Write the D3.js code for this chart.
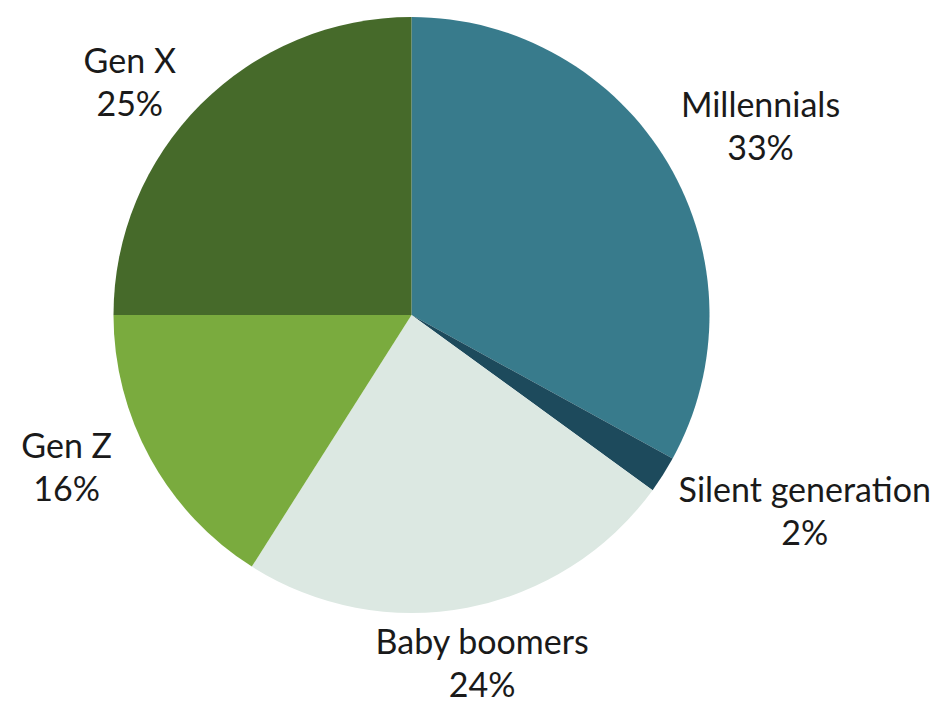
<!DOCTYPE html>
<html>
<head>
<meta charset="utf-8">
<script src="https://cdn.jsdelivr.net/npm/d3@7"></script>
<style>
  body { margin: 0; background: #fff; }
  svg text { font-family: Lato, "Open Sans", sans-serif; fill: #1a1a1a; }
</style>
</head>
<body>
<svg id="chart" width="945" height="706"></svg>
<script>
const categories = ["Millennials", "Silent generation", "Baby boomers", "Gen Z", "Gen X"];
const shares = [33, 2, 24, 16, 25];
const sliceColors = ["#387b8c", "#1d4a5c", "#dce8e2", "#7aab3e", "#466a2a"];

// label anchor: distance from centre and angle tweak (deg) per slice
const labelRadius = [391, 445, 367, 382, 358];
const labelAngleShift = [3.8, -4.5, -0.3, 3.3, -6.9];

const width = 945, height = 706;
const cx = 411.5, cy = 315, radius = 298;
const lineGap = 43;
const fontSize = 34;

const svg = d3.select("#chart");
const g = svg.append("g").attr("transform", `translate(${cx},${cy})`);

const pie = d3.pie().sort(null).value(d => d);
const arcs = pie(shares);
const arc = d3.arc().innerRadius(0).outerRadius(radius);

g.selectAll("path.slice")
  .data(arcs)
  .enter()
  .append("path")
  .attr("class", "slice")
  .attr("d", arc)
  .attr("fill", (d, i) => sliceColors[i]);

const labels = g.selectAll("g.label")
  .data(arcs)
  .enter()
  .append("g")
  .attr("class", "label")
  .attr("transform", (d, i) => {
    const a = (d.startAngle + d.endAngle) / 2 + labelAngleShift[i] * Math.PI / 180;
    const r = labelRadius[i];
    return `translate(${r * Math.sin(a)},${-r * Math.cos(a)})`;
  });

labels.append("text")
  .attr("text-anchor", "middle")
  .attr("font-size", fontSize)
  .attr("y", -lineGap / 2)
  .text((d, i) => categories[i]);

labels.append("text")
  .attr("text-anchor", "middle")
  .attr("font-size", fontSize)
  .attr("y", lineGap / 2)
  .text(d => d.data + "%");
</script>
</body>
</html>
